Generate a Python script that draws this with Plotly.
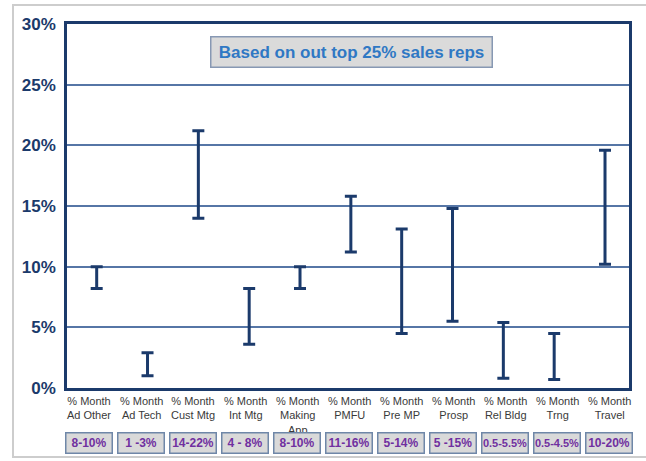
import plotly.graph_objects as go

# --- data -------------------------------------------------------------
categories = ["Ad Other", "Ad Tech", "Cust Mtg", "Int Mtg", "Making App", "PMFU",
              "Pre MP", "Prosp", "Rel Bldg", "Trng", "Travel"]
axis_labels = ["% Month<br>Ad Other", "% Month<br>Ad Tech", "% Month<br>Cust Mtg",
               "% Month<br>Int Mtg", "% Month<br>Making<br>App", "% Month<br>PMFU",
               "% Month<br>Pre MP", "% Month<br>Prosp", "% Month<br>Rel Bldg",
               "% Month<br>Trng", "% Month<br>Travel"]
low_pct = [8.2, 1.0, 14.0, 3.6, 8.2, 11.2, 4.5, 5.5, 0.8, 0.7, 10.2]
high_pct = [10.0, 2.9, 21.2, 8.2, 10.0, 15.8, 13.1, 14.8, 5.4, 4.5, 19.6]
range_labels = ["8-10%", "1 -3%", "14-22%", "4 - 8%", "8-10%", "11-16%",
                "5-14%", "5 -15%", "0.5-5.5%", "0.5-4.5%", "10-20%"]
y_ticks = [0, 5, 10, 15, 20, 25, 30]
y_tick_text = ["0%", "5%", "10%", "15%", "20%", "25%", "30%"]
note = "Based on out top 25% sales reps"

# --- layout geometry (pixels) -----------------------------------------
W, H = 646, 461
L, R, T, B = 67, 17, 24, 73
PW, PH = W - L - R, H - T - B

def px_x(p):
    return (p - L) / PW

def px_y(p):
    return (H - B - p) / PH

NAVY = "#1b3a6b"
SANS = "Liberation Sans, Arial, sans-serif"

x_idx = list(range(len(categories)))
mid = [(a + b) / 2 for a, b in zip(low_pct, high_pct)]
half = [(b - a) / 2 for a, b in zip(low_pct, high_pct)]

fig = go.Figure()
fig.add_trace(go.Scatter(
    x=x_idx, y=mid, mode="markers",
    marker=dict(size=1, opacity=0),
    error_y=dict(type="data", symmetric=True, array=half,
                 color=NAVY, thickness=3, width=6),
    customdata=list(zip(categories, low_pct, high_pct)),
    hovertemplate="%{customdata[0]}: %{customdata[1]}–%{customdata[2]}%<extra></extra>",
    showlegend=False,
))

annotations = []
# category captions under the axis
for i, lab in enumerate(axis_labels):
    annotations.append(dict(
        x=px_x(89 + 52 * i), y=px_y(393), xref="paper", yref="paper",
        xanchor="center", yanchor="top", showarrow=False, align="center",
        text=lab, font=dict(family=SANS, size=11, color="#3a3a3a"),
    ))
# range boxes
for i, lab in enumerate(range_labels):
    annotations.append(dict(
        x=px_x(89 + 52 * i), y=px_y(443), xref="paper", yref="paper",
        xanchor="center", yanchor="middle", showarrow=False,
        text="<b>%s</b>" % lab, width=44, height=18, borderpad=0.5,
        bgcolor="#d9d9d9", bordercolor="#6f87a8", borderwidth=1.5,
        font=dict(family=SANS, size=12 if len(lab) <= 6 else 11, color="#7030a0"),
    ))
# note box
annotations.append(dict(
    x=px_x(351), y=px_y(52), xref="paper", yref="paper",
    xanchor="center", yanchor="middle", showarrow=False,
    text="<b>%s</b>" % note, width=278, height=27, borderpad=1,
    bgcolor="#dadada", bordercolor="#8798b3", borderwidth=1.5,
    font=dict(family=SANS, size=17, color="#2f78c4"),
))

fig.update_layout(
    width=W, height=H,
    margin=dict(l=L, r=R, t=T, b=B),
    paper_bgcolor="white", plot_bgcolor="white",
    xaxis=dict(range=[-0.584, 10.472], showticklabels=False, ticks="",
               showgrid=False, zeroline=False, showline=True, linecolor=NAVY,
               linewidth=2.5, mirror=True, fixedrange=True),
    yaxis=dict(range=[0, 30], tickvals=y_ticks, ticktext=["<b>%s</b>" % t for t in y_tick_text],
               tickfont=dict(family=SANS, size=17, color=NAVY),
               showgrid=True, gridcolor="#5676a6", gridwidth=1.5, zeroline=False,
               showline=True, linecolor=NAVY, linewidth=2.5, mirror=True,
               ticks="", ticklabelstandoff=5, fixedrange=True),
    annotations=annotations,
    shapes=[dict(type="rect", xref="paper", yref="paper",
                 x0=px_x(13), x1=px_x(680), y0=px_y(457), y1=px_y(5),
                 line=dict(color="#cdcdcd", width=2), layer="below")],
)

fig.write_html("out.html")
